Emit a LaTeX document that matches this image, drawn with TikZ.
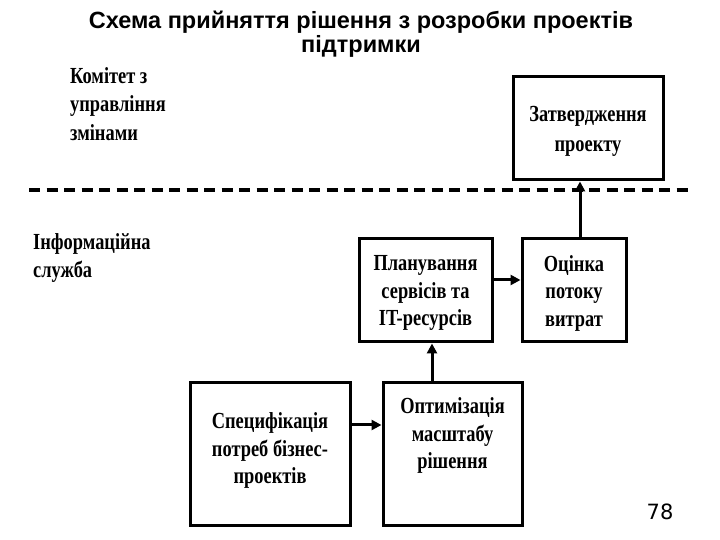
\documentclass[tikz,border=0pt]{standalone}
\usepackage{fontspec}
\setmainfont{Liberation Serif}
\newfontfamily\condfont[FakeStretch=0.8]{Liberation Serif}
\newfontfamily\titlefont{Liberation Sans}
\newfontfamily\numfont{DejaVu Sans}
\usetikzlibrary{arrows.meta}
\begin{document}
\begin{tikzpicture}[x=1pt,y=1pt,
  box/.style={draw=black, line width=3pt, inner sep=0pt, align=center,
    font=\condfont\bfseries\fontsize{23}{28.5}\selectfont},
  lbl/.style={anchor=north west, align=left, inner sep=0pt,
    font=\condfont\bfseries\fontsize{23}{28.5}\selectfont},
  intext/.style={align=center, inner sep=0pt,
    font=\condfont\bfseries\fontsize{23}{27.5}\selectfont},
  arr/.style={line width=3pt, -{Triangle[length=10pt,width=10pt]}}]
\useasboundingbox (0,0) rectangle (720,540);
\fill[white] (0,0) rectangle (720,540);
\node[font=\titlefont\bfseries\fontsize{23.5}{24}\selectfont, align=center] (title) at (361,506)
  {Схема прийняття рішення з розробки проектів\\підтримки};
\node[lbl] (kom) at (70,473) {Комітет з\\управління\\змінами};
\node[lbl] (inf) at (33,307) {Інформаційна\\служба};
\coordinate (dl) at (29,350);
\coordinate (dr) at (690,350);
\draw[line width=4pt, dash pattern=on 11pt off 6.5pt] (dl) -- (dr);
\node[box, minimum width=150pt, minimum height=103pt,
  label={[intext, yshift=-2.5pt, font=\condfont\bfseries\fontsize{23}{30}\selectfont]center:Затвердження\\проекту}] (zat) at (588,411.5) {};
\node[box, minimum width=133pt, minimum height=103pt,
  label={[intext, yshift=-2.5pt]center:Планування\\сервісів та\\IT-ресурсів}] (plan) at (425.5,249.5) {};
\node[box, minimum width=104pt, minimum height=103pt,
  label={[intext, yshift=-2.5pt]center:Оцінка\\потоку\\витрат}] (oc) at (574,249.5) {};
\node[box, minimum width=160pt, minimum height=143pt,
  label={[intext, yshift=4pt]center:Специфікація\\потреб бізнес-\\проектів}] (spec) at (270,85.5) {};
\node[box, minimum width=139pt, minimum height=143pt,
  label={[intext, anchor=north, yshift=-16pt]north:Оптимізація\\масштабу\\рішення}] (opt) at (452.5,85.5) {};
\draw[arr] ([yshift=29.5pt]spec.east) -- ([yshift=29.5pt]opt.west);
\draw[arr] ([xshift=-20.5pt]opt.north) -- ([xshift=6.5pt]plan.south);
\draw[arr] ([yshift=10.5pt]plan.east) -- ([yshift=10.5pt]oc.west);
\draw[arr] ([xshift=6pt]oc.north) -- ([xshift=-8pt]zat.south);
\node[font=\numfont\fontsize{21}{24}\selectfont] (num) at (660,28) {78};
\end{tikzpicture}
\end{document}
